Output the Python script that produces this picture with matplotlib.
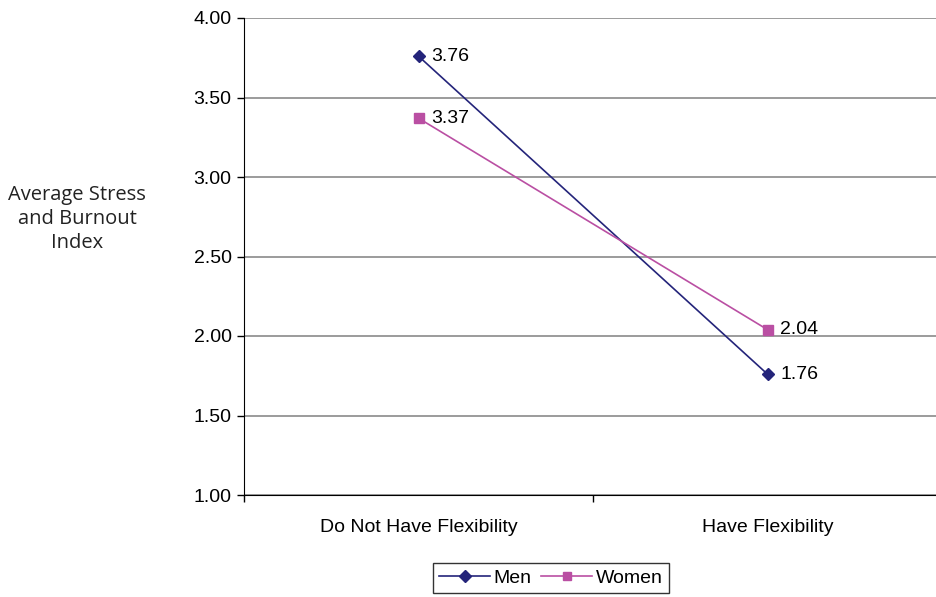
import matplotlib.pyplot as plt

categories = ['Do Not Have Flexibility', 'Have Flexibility']
men = [3.76, 1.76]
women = [3.37, 2.04]
yticks = [1.00, 1.50, 2.00, 2.50, 3.00, 3.50, 4.00]

W, H = 936, 597
fig = plt.figure(figsize=(W / 100, H / 100), dpi=100)
# plot area: left edge 244px, category width ~349px, y from 18px to 495px
ax = fig.add_axes([244 / W, 1 - 495 / H, 698 / W, 477 / H])

x = [0, 1]
ax.plot(x, men, color='#24247A', lw=1.2, marker='D', ms=6.5, label='Men', zorder=3)
ax.plot(x, women, color='#BA4FA3', lw=1.2, marker='s', ms=6.5, label='Women', zorder=3)

for xi, v in zip(x, men):
    ax.annotate('%.2f' % v, (xi, v), xytext=(9, 0), textcoords='offset points',
                va='center', ha='left', fontsize=14, family='Liberation Sans')
for xi, v in zip(x, women):
    ax.annotate('%.2f' % v, (xi, v), xytext=(9, 0), textcoords='offset points',
                va='center', ha='left', fontsize=14, family='Liberation Sans')

ax.set_xlim(-0.5, 1.5)
ax.set_ylim(1, 4)
ax.set_yticks(yticks)
ax.set_yticklabels(['%.2f' % t for t in yticks], family='Liberation Sans', fontsize=14)
ax.set_xticks([-0.5, 0.5, 1.5])
ax.set_xticklabels([])
ax.set_xticks(x, minor=True)
ax.set_xticklabels(categories, minor=True, family='Liberation Sans', fontsize=14)
ax.tick_params(axis='x', which='minor', length=0, pad=17)
ax.tick_params(axis='x', which='major', length=5, direction='out', width=1)
ax.tick_params(axis='y', length=5, direction='out', width=1, pad=4)

ax.grid(axis='y', color='#808080', lw=1.1)
ax.set_axisbelow(True)
for s in ['top', 'right']:
    ax.spines[s].set_visible(False)
ax.spines['left'].set_color('black')
ax.spines['bottom'].set_color('black')

fig.text(77 / W, 1 - 219 / H, 'Average Stress\nand Burnout\nIndex', ha='center', va='center',
         fontsize=14.5, family='Open Sans', color='#222222', linespacing=1.25)

leg = fig.legend(loc='center', bbox_to_anchor=(551 / W, 1 - 578 / H), ncol=2,
                 prop={'family': 'Liberation Sans', 'size': 14}, frameon=True,
                 fancybox=False, edgecolor='black', handlelength=2.6, handletextpad=0.2,
                 columnspacing=0.5, borderpad=0.3, markerscale=0.9)
leg.get_frame().set_linewidth(1)

fig.savefig('out.png', dpi=100)
